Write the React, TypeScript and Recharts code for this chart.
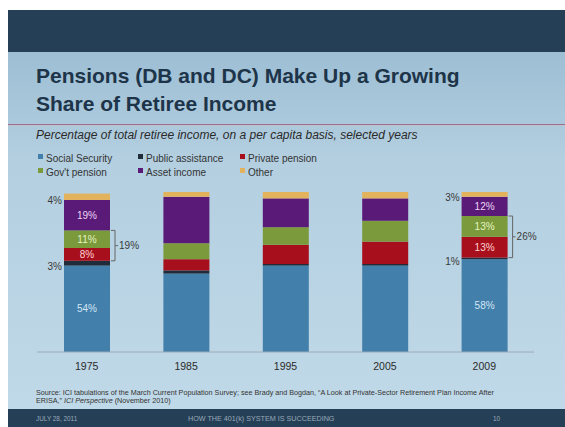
import React from 'react';
import { BarChart, Bar, XAxis, YAxis } from 'recharts';

const years = ['1975', '1985', '1995', '2005', '2009'];
const socialSecurity = [54, 49, 54, 54, 58];
const publicAssistance = [3, 2, 1, 1, 1];
const privatePension = [8, 7, 12, 14, 13];
const govPension = [11, 10, 11, 13, 13];
const assetIncome = [19, 29, 18, 14, 12];
const other = [4, 3, 4, 4, 3];
const labelledYears = ['1975', '2009'];

const seriesNames = ['Social Security', 'Public assistance', 'Private pension', "Gov't pension", 'Asset income', 'Other'];
const seriesKeys = ['ss', 'pa', 'pp', 'gp', 'ai', 'ot'];
const seriesColors = ['#427FAB', '#1F2C3A', '#A80F1C', '#7A9A3B', '#5A1B78', '#E2B25C'];
const insideTextColors: (string | null)[] = ['#D3E6F5', null, '#FFD2D2', '#E6F4C2', '#EBD3F5', null];

const data = years.map((year, i) => ({
  year,
  ss: socialSecurity[i],
  pa: publicAssistance[i],
  pp: privatePension[i],
  gp: govPension[i],
  ai: assetIncome[i],
  ot: other[i],
}));

const FONT = '"Liberation Sans", Arial, sans-serif';

function makeShape(k: number) {
  return (props: any) => {
    const { x, y, width, height, payload } = props;
    const value = payload[seriesKeys[k]];
    const els: React.ReactNode[] = [
      <rect key="r" x={x} y={y} width={width} height={height} fill={seriesColors[k]} />,
    ];
    if (labelledYears.includes(payload.year)) {
      const tc = insideTextColors[k];
      if (tc) {
        els.push(
          <text key="t" x={x + width / 2} y={y + height / 2} dy="0.35em" textAnchor="middle" fontSize={10} fontFamily={FONT} fill={tc}>
            {value}%
          </text>
        );
      } else {
        els.push(
          <text key="t" x={x - 2} y={y + height / 2 + 3.5} dy="0.35em" textAnchor="end" fontSize={10} fontFamily={FONT} fill="#3a3a3a">
            {value}%
          </text>
        );
      }
      if (seriesKeys[k] === 'gp') {
        const unit = height / payload.gp;
        const top = y;
        const bottom = y + height + payload.pp * unit;
        const bx = x + width + 5;
        const mid = (top + bottom) / 2;
        els.push(
          <g key="b" stroke="#666" strokeWidth={1} fill="none">
            <path d={`M${bx - 4},${top} H${bx} V${bottom} H${bx - 4}`} />
            <path d={`M${bx},${mid} H${bx + 3}`} />
          </g>
        );
        els.push(
          <text key="bt" x={bx + 4} y={mid} dy="0.35em" fontSize={10} fontFamily={FONT} fill="#3a3a3a">
            {payload.gp + payload.pp}%
          </text>
        );
      }
    }
    return <g>{els}</g>;
  };
}

const legendCols = [38, 138, 240];
const legendRows = [158, 172];

export default function App() {
  return (
    <div style={{ position: 'absolute', left: 0, top: 0, width: 565, height: 427, background: '#fff', overflow: 'hidden' }}>
      <svg width={565} height={427} style={{ position: 'absolute', left: 0, top: 0 }}>
        <defs>
          <linearGradient id="bg" x1="0" y1="0" x2="0" y2="1">
            <stop offset="0" stopColor="#9DBED4" />
            <stop offset="0.3" stopColor="#B3CFE0" />
            <stop offset="1" stopColor="#C0D9E8" />
          </linearGradient>
        </defs>
        <rect x={8} y={52} width={557} height={357} fill="url(#bg)" />
        <rect x={8} y={10} width={557} height={42} fill="#243F56" />
        <rect x={8} y={409} width={557} height={18} fill="#253F56" />
        <text x={36} y={83} fontSize={21} fontWeight="bold" fontFamily={FONT} fill="#1D3449">
          Pensions (DB and DC) Make Up a Growing
        </text>
        <text x={36} y={111} fontSize={21} fontWeight="bold" fontFamily={FONT} fill="#1D3449">
          Share of Retiree Income
        </text>
        <rect x={8} y={124} width={557} height={1.2} fill="#9A7090" />
        <rect x={8} y={125.2} width={557} height={0.8} fill="#C9C3CF" />
        <text x={36} y={139} fontSize={12} fontStyle="italic" fontFamily={FONT} fill="#2a2a2a">
          Percentage of total retiree income, on a per capita basis, selected years
        </text>
        {seriesNames.map((name, i) => {
          const cx = legendCols[i % 3];
          const cy = legendRows[Math.floor(i / 3)];
          return (
            <g key={name}>
              <rect x={cx} y={cy - 4} width={5} height={5} fill={seriesColors[i]} />
              <text x={cx + 8} y={cy} dy="0.35em" fontSize={10} fontFamily={FONT} fill="#333">
                {name}
              </text>
            </g>
          );
        })}
        <text x={36} y={395} fontSize={7.2} fontFamily={FONT} fill="#333">
          Source: ICI tabulations of the March Current Population Survey; see Brady and Bogdan, “A Look at Private-Sector Retirement Plan Income After
        </text>
        <text x={36} y={403} fontSize={7.2} fontFamily={FONT} fill="#333">
          ERISA,” <tspan fontStyle="italic">ICI Perspective</tspan> (November 2010)
        </text>
        <text x={36} y={421} fontSize={6.4} fontFamily={FONT} fill="#9AAABA">JULY 28, 2011</text>
        <text x={188} y={421} fontSize={7.2} fontFamily={FONT} fill="#9AAABA">HOW THE 401(k) SYSTEM IS SUCCEEDING</text>
        <text x={493} y={421} fontSize={6.4} fontFamily={FONT} fill="#9AAABA">10</text>
      </svg>
      <div style={{ position: 'absolute', left: 0, top: 0 }}>
        <BarChart width={565} height={427} data={data} margin={{ top: 192, right: 31, bottom: 45, left: 37 }}>
          <YAxis hide domain={[0, 100]} allowDataOverflow />
          <XAxis
            dataKey="year"
            height={30}
            tickLine={false}
            tickMargin={5}
            axisLine={{ stroke: '#9DAAB6', strokeWidth: 1 }}
            tick={{ fill: '#2b2b2b', fontSize: 10.5, fontFamily: FONT }}
          />
          {seriesKeys.map((k, i) => (
            <Bar
              key={k}
              dataKey={k}
              name={seriesNames[i]}
              stackId="a"
              fill={seriesColors[i]}
              barSize={46}
              isAnimationActive={false}
              shape={makeShape(i)}
            />
          ))}
        </BarChart>
      </div>
    </div>
  );
}
